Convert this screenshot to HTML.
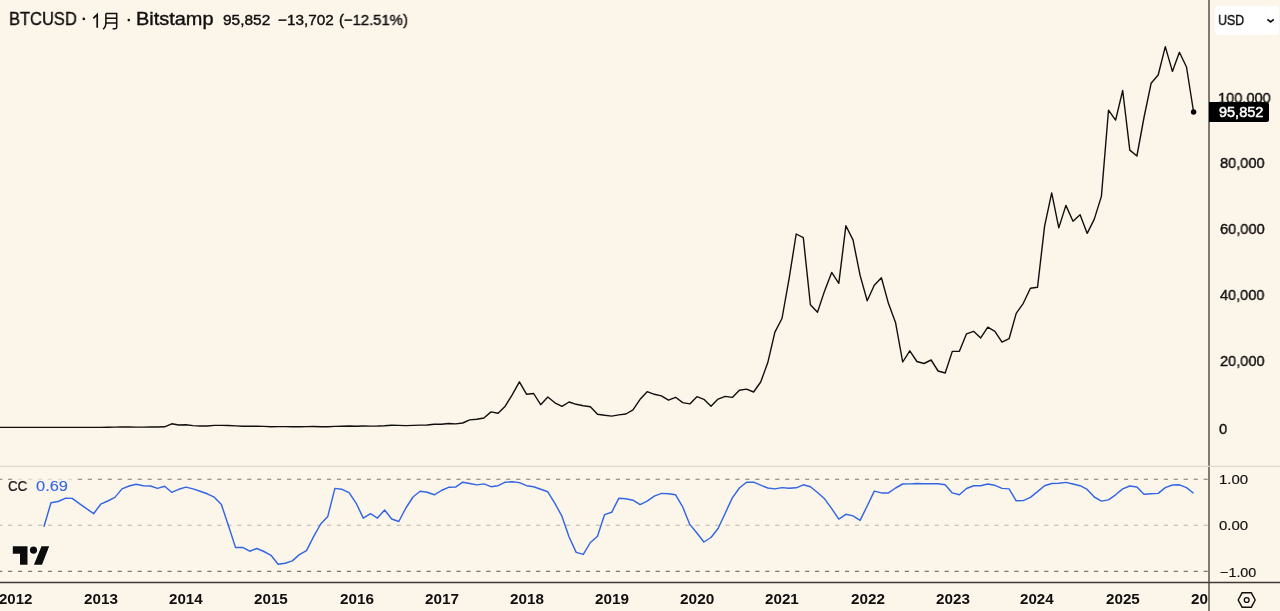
<!DOCTYPE html>
<html><head><meta charset="utf-8"><title>BTCUSD</title>
<style>
html,body{margin:0;padding:0;}
body{width:1280px;height:611px;overflow:hidden;background:#fcf5ea;font-family:"Liberation Sans",sans-serif;color:#100f0e;position:relative;}
#chart{position:absolute;left:0;top:0;}
.t{position:absolute;white-space:nowrap;line-height:1;transform-origin:0 0;will-change:transform;}
#usd{position:absolute;left:1214.8px;top:5.8px;width:64px;height:29px;background:#fff;border-radius:4px;}
#plabel{position:absolute;left:1209.3px;top:102.2px;width:59.6px;height:20.2px;background:#000;border-radius:0 2.5px 2.5px 0;}
#clip26{position:absolute;left:1180px;top:585px;width:28.3px;height:26px;overflow:hidden;}
</style></head><body>
<svg id="chart" width="1280" height="611" viewBox="0 0 1280 611">
<line x1="-1.9" y1="479.3" x2="1208" y2="479.3" stroke="#7e7970" stroke-width="1.1" stroke-dasharray="4.2 5.763"/>
<line x1="-1.9" y1="525.3" x2="1208" y2="525.3" stroke="#b9b3a8" stroke-width="1.1" stroke-dasharray="4.2 5.763"/>
<line x1="-1.9" y1="571.4" x2="1208" y2="571.4" stroke="#7e7970" stroke-width="1.1" stroke-dasharray="4.2 5.763"/>
<rect x="13.5" y="476" width="62" height="21" fill="#fcf5ea" opacity="0.72"/>
<path d="M-5.8,427.4 L1.3,427.4 L8.4,427.4 L15.5,427.4 L22.6,427.4 L29.7,427.4 L36.8,427.4 L43.9,427.4 L51.0,427.4 L58.1,427.4 L65.2,427.4 L72.3,427.4 L79.4,427.4 L86.5,427.4 L93.6,427.4 L100.7,427.4 L107.8,427.3 L114.9,427.1 L122.0,427.0 L129.1,427.0 L136.2,427.1 L143.3,427.1 L150.4,427.0 L157.5,427.0 L164.6,426.8 L171.7,423.8 L178.8,425.0 L185.9,424.8 L193.0,425.6 L200.1,426.0 L207.2,426.0 L214.3,425.4 L221.4,425.4 L228.5,425.5 L235.5,425.9 L242.6,426.2 L249.7,426.3 L256.8,426.2 L263.9,426.4 L271.0,426.7 L278.1,426.6 L285.2,426.6 L292.3,426.7 L299.4,426.7 L306.5,426.6 L313.6,426.5 L320.7,426.7 L327.8,426.7 L334.9,426.4 L342.0,426.2 L349.1,426.0 L356.2,426.2 L363.3,426.0 L370.4,426.1 L377.5,426.0 L384.6,425.7 L391.7,425.2 L398.8,425.4 L405.9,425.6 L413.0,425.4 L420.1,425.1 L427.2,425.0 L434.3,424.3 L441.4,424.3 L448.5,423.5 L455.6,423.9 L462.7,423.0 L469.7,419.9 L476.8,419.3 L483.9,418.0 L491.0,411.9 L498.1,413.2 L505.2,406.2 L512.3,394.7 L519.4,381.8 L526.5,394.2 L533.6,393.5 L540.7,404.7 L547.8,397.0 L554.9,402.8 L562.0,406.4 L569.1,402.0 L576.2,404.3 L583.3,405.7 L590.4,406.7 L597.5,414.3 L604.6,415.3 L611.7,416.1 L618.8,414.9 L625.9,414.0 L633.0,409.9 L640.1,399.3 L647.2,391.7 L654.3,394.3 L661.4,395.9 L668.5,400.2 L675.6,397.3 L682.7,402.6 L689.8,403.9 L696.9,396.7 L703.9,399.3 L711.0,406.3 L718.1,399.1 L725.2,396.4 L732.3,397.4 L739.4,390.2 L746.5,389.1 L753.6,392.0 L760.7,382.0 L767.8,362.6 L774.9,332.1 L782.0,318.5 L789.1,278.7 L796.2,234.0 L803.3,237.6 L810.4,304.7 L817.5,312.2 L824.6,290.9 L831.7,272.4 L838.8,283.3 L845.9,225.7 L853.0,239.9 L860.1,275.4 L867.2,300.8 L874.3,285.3 L881.4,277.7 L888.5,303.6 L895.6,322.8 L902.7,362.0 L909.8,350.8 L916.9,361.5 L924.0,363.5 L931.1,360.0 L938.1,371.0 L945.2,373.0 L952.3,351.4 L959.4,351.3 L966.5,333.8 L973.6,331.3 L980.7,337.9 L987.8,327.2 L994.9,331.3 L1002.0,342.1 L1009.1,338.7 L1016.2,313.4 L1023.3,303.3 L1030.4,288.3 L1037.5,287.3 L1044.6,226.2 L1051.7,192.9 L1058.8,227.9 L1065.9,205.4 L1073.0,221.2 L1080.1,214.8 L1087.2,233.4 L1094.3,219.1 L1101.4,196.4 L1108.5,110.2 L1115.6,120.1 L1122.7,90.5 L1129.8,150.1 L1136.9,156.0 L1144.0,117.5 L1151.1,83.3 L1158.2,75.0 L1165.3,46.6 L1172.4,71.4 L1179.4,52.3 L1186.5,67.0 L1193.6,112.0" fill="none" stroke="#100f0e" stroke-width="1.4" stroke-linejoin="round"/>
<circle cx="1193.6" cy="112.0" r="2.7" fill="#000"/>
<path d="M43.9,526.7 L51.0,502.8 L58.1,501.5 L65.2,498.3 L72.3,498.4 L79.4,503.7 L86.5,508.7 L93.6,513.7 L100.7,504.2 L107.8,501.0 L114.9,497.4 L122.0,488.9 L129.1,486.0 L136.2,484.2 L143.3,485.8 L150.4,486.0 L157.5,488.4 L164.6,486.2 L171.7,492.3 L178.8,489.3 L185.9,487.1 L193.0,488.9 L200.1,491.2 L207.2,493.8 L214.3,497.2 L221.4,504.6 L228.5,525.8 L235.5,547.4 L242.6,547.4 L249.7,551.2 L256.8,548.5 L263.9,551.5 L271.0,555.3 L278.1,564.3 L285.2,563.2 L292.3,560.9 L299.4,554.6 L306.5,550.6 L313.6,536.6 L320.7,524.0 L327.8,516.4 L334.9,488.4 L342.0,489.3 L349.1,492.7 L356.2,503.3 L363.3,518.1 L370.4,513.7 L377.5,518.1 L384.6,510.0 L391.7,519.0 L398.8,521.5 L405.9,508.0 L413.0,497.0 L420.1,491.2 L427.2,492.3 L434.3,494.8 L441.4,490.5 L448.5,487.3 L455.6,487.1 L462.7,482.2 L469.7,483.5 L476.8,484.9 L483.9,483.9 L491.0,486.7 L498.1,485.7 L505.2,482.2 L512.3,481.7 L519.4,482.6 L526.5,485.7 L533.6,486.7 L540.7,489.3 L547.8,491.8 L554.9,503.3 L562.0,516.4 L569.1,537.0 L576.2,552.4 L583.3,554.4 L590.4,542.5 L597.5,536.2 L604.6,514.6 L611.7,512.3 L618.8,498.3 L625.9,498.8 L633.0,500.2 L640.1,504.6 L647.2,501.1 L654.3,496.1 L661.4,493.4 L668.5,493.8 L675.6,494.8 L682.7,506.9 L689.8,524.4 L696.9,533.0 L703.9,542.0 L711.0,537.5 L718.1,528.5 L725.2,513.2 L732.3,497.9 L739.4,488.0 L746.5,482.2 L753.6,482.2 L760.7,485.2 L767.8,488.0 L774.9,488.9 L782.0,487.6 L789.1,488.2 L796.2,487.8 L803.3,484.8 L810.4,486.7 L817.5,492.5 L824.6,498.8 L831.7,508.7 L838.8,519.1 L845.9,514.3 L853.0,515.9 L860.1,520.4 L867.2,506.0 L874.3,491.1 L881.4,492.9 L888.5,492.9 L895.6,488.0 L902.7,484.0 L909.8,483.9 L916.9,483.5 L924.0,483.7 L931.1,483.7 L938.1,483.7 L945.2,484.8 L952.3,492.9 L959.4,494.8 L966.5,488.5 L973.6,485.8 L980.7,485.8 L987.8,484.0 L994.9,485.3 L1002.0,488.4 L1009.1,488.9 L1016.2,500.8 L1023.3,500.6 L1030.4,497.4 L1037.5,491.6 L1044.6,485.7 L1051.7,483.5 L1058.8,483.3 L1065.9,482.4 L1073.0,484.0 L1080.1,485.7 L1087.2,489.4 L1094.3,497.0 L1101.4,501.1 L1108.5,499.9 L1115.6,494.8 L1122.7,488.9 L1129.8,486.0 L1136.9,487.0 L1144.0,494.3 L1151.1,493.7 L1158.2,493.4 L1165.3,487.6 L1172.4,485.0 L1179.4,484.8 L1186.5,487.6 L1193.6,493.3" fill="none" stroke="#3366e2" stroke-width="1.45" stroke-linejoin="round"/>
<line x1="1209" y1="0" x2="1209" y2="611" stroke="#56514b" stroke-width="1.5"/>
<line x1="0" y1="466.4" x2="1280" y2="466.4" stroke="#ded6c9" stroke-width="1.1"/>
<line x1="0" y1="582.5" x2="1280" y2="582.5" stroke="#3d3a35" stroke-width="1.3"/>
<!-- title dots and CJK glyph -->
<circle cx="83.8" cy="18.9" r="1.3" fill="#100f0e"/>
<circle cx="128.8" cy="20.1" r="1.3" fill="#100f0e"/>
<g fill="none" stroke="#100f0e" stroke-width="1.5" stroke-linecap="butt" stroke-linejoin="miter">
<path d="M105.9 13.6 H116.7 V27.3 Q116.7 28.7 115.3 28.7 H112.6"/>
<path d="M105.9 13.6 V22.5 Q105.9 27.2 103 29.2"/>
<path d="M105.9 18.3 H116.7 M105.9 23 H116.7"/>
</g>
<path d="M93.3 18.4 L97.2 14.6 V27.7" fill="none" stroke="#100f0e" stroke-width="1.7" stroke-linejoin="miter"/>
<!-- TV logo -->
<g transform="translate(12.8,546.3)" fill="#0c0c0c" stroke="#fffdf8" stroke-width="1.6" paint-order="stroke" stroke-linejoin="round">
<path d="M0 0 H14.7 V18.4 H7.2 V7.4 H0 Z"/>
<circle cx="20.7" cy="3.75" r="3.6"/>
<path d="M28.7 0 H36.4 L29.2 18.4 H21.1 Z"/>
</g>
<!-- hexagon settings icon -->
<g transform="translate(1246.7,600)" fill="none" stroke="#100f0e" stroke-width="1.4">
<path d="M-8.5 0 L-4.6 -7.2 H4.6 L8.5 0 L4.6 7.2 H-4.6 Z"/>
<circle cx="0" cy="0" r="2.4"/>
</g>
</svg>
<div id="usd"></div>
<div id="plabel"></div>
<svg style="position:absolute;left:1260px;top:12px" width="20" height="16" viewBox="0 0 20 16"><path d="M7.4 7.3 L10.6 9.9 L13.8 7.3" fill="none" stroke="#100f0e" stroke-width="1.7"/></svg>
<div class="t" style="left:8.96px;top:9.99px;font-size:18.87px;transform:scaleX(0.8743);color:#100f0e;font-weight:normal;-webkit-text-stroke:0.4px;">BTCUSD</div>
<div class="t" style="left:135.65px;top:9.99px;font-size:18.87px;transform:scaleX(1.0566);color:#100f0e;font-weight:normal;-webkit-text-stroke:0.4px;">Bitstamp</div>
<div class="t" style="left:223.00px;top:11.84px;font-size:15.00px;transform:scaleX(1.0294);color:#100f0e;font-weight:normal;-webkit-text-stroke:0.4px;">95,852</div>
<div class="t" style="left:277.64px;top:11.84px;font-size:15.00px;transform:scaleX(1.0183);color:#100f0e;font-weight:normal;-webkit-text-stroke:0.4px;">−13,702</div>
<div class="t" style="left:339.00px;top:11.84px;font-size:15.00px;transform:scaleX(0.9889);color:#100f0e;font-weight:normal;-webkit-text-stroke:0.4px;">(−12.51%)</div>
<div class="t" style="left:1218.06px;top:12.76px;font-size:14.47px;transform:scaleX(0.8569);color:#100f0e;font-weight:normal;-webkit-text-stroke:0.4px;">USD</div>
<div class="t" style="left:1218.17px;top:91.18px;font-size:14.97px;transform:scaleX(0.9735);color:#100f0e;font-weight:normal;-webkit-text-stroke:0.4px;">100,000</div>
<div class="t" style="left:1219.76px;top:156.38px;font-size:14.97px;transform:scaleX(0.9722);color:#100f0e;font-weight:normal;-webkit-text-stroke:0.4px;">80,000</div>
<div class="t" style="left:1219.52px;top:222.18px;font-size:14.97px;transform:scaleX(0.9751);color:#100f0e;font-weight:normal;-webkit-text-stroke:0.4px;">60,000</div>
<div class="t" style="left:1219.64px;top:288.38px;font-size:14.97px;transform:scaleX(0.9685);color:#100f0e;font-weight:normal;-webkit-text-stroke:0.4px;">40,000</div>
<div class="t" style="left:1219.76px;top:353.58px;font-size:14.97px;transform:scaleX(0.9722);color:#100f0e;font-weight:normal;-webkit-text-stroke:0.4px;">20,000</div>
<div class="t" style="left:1218.96px;top:421.58px;font-size:14.97px;transform:scaleX(0.9789);color:#100f0e;font-weight:normal;-webkit-text-stroke:0.4px;">0</div>
<div class="t" style="left:1219.11px;top:472.91px;font-size:13.19px;transform:scaleX(1.1334);color:#100f0e;font-weight:normal;-webkit-text-stroke:0.15px;">1.00</div>
<div class="t" style="left:1218.98px;top:519.31px;font-size:13.19px;transform:scaleX(1.1371);color:#100f0e;font-weight:normal;-webkit-text-stroke:0.15px;">0.00</div>
<div class="t" style="left:1219.71px;top:565.71px;font-size:13.19px;transform:scaleX(1.0891);color:#100f0e;font-weight:normal;-webkit-text-stroke:0.15px;">−1.00</div>
<div class="t" style="left:8.49px;top:479.24px;font-size:14.61px;transform:scaleX(0.9138);color:#100f0e;font-weight:normal;-webkit-text-stroke:0.2px;">CC</div>
<div class="t" style="left:36.14px;top:478.33px;font-size:15.36px;transform:scaleX(1.0692);color:#3366e2;font-weight:normal;-webkit-text-stroke:0.12px;">0.69</div>
<div class="t" style="left:-0.59px;top:593.32px;font-size:13.79px;transform:scaleX(1.0913);color:#100f0e;font-weight:bold;">2012</div>
<div class="t" style="left:84.40px;top:593.32px;font-size:13.79px;transform:scaleX(1.1064);color:#100f0e;font-weight:bold;">2013</div>
<div class="t" style="left:169.25px;top:593.32px;font-size:13.79px;transform:scaleX(1.0967);color:#100f0e;font-weight:bold;">2014</div>
<div class="t" style="left:254.06px;top:593.32px;font-size:13.79px;transform:scaleX(1.1024);color:#100f0e;font-weight:bold;">2015</div>
<div class="t" style="left:339.87px;top:593.32px;font-size:13.79px;transform:scaleX(1.1065);color:#100f0e;font-weight:bold;">2016</div>
<div class="t" style="left:424.68px;top:593.32px;font-size:13.79px;transform:scaleX(1.1069);color:#100f0e;font-weight:bold;">2017</div>
<div class="t" style="left:509.52px;top:593.32px;font-size:13.79px;transform:scaleX(1.1058);color:#100f0e;font-weight:bold;">2018</div>
<div class="t" style="left:595.33px;top:593.32px;font-size:13.79px;transform:scaleX(1.1057);color:#100f0e;font-weight:bold;">2019</div>
<div class="t" style="left:680.14px;top:593.32px;font-size:13.79px;transform:scaleX(1.1193);color:#100f0e;font-weight:bold;">2020</div>
<div class="t" style="left:764.98px;top:593.32px;font-size:13.79px;transform:scaleX(1.1030);color:#100f0e;font-weight:bold;">2021</div>
<div class="t" style="left:850.79px;top:593.32px;font-size:13.79px;transform:scaleX(1.1060);color:#100f0e;font-weight:bold;">2022</div>
<div class="t" style="left:935.60px;top:593.32px;font-size:13.79px;transform:scaleX(1.1064);color:#100f0e;font-weight:bold;">2023</div>
<div class="t" style="left:1020.45px;top:593.32px;font-size:13.79px;transform:scaleX(1.0967);color:#100f0e;font-weight:bold;">2024</div>
<div class="t" style="left:1106.26px;top:593.32px;font-size:13.79px;transform:scaleX(1.1024);color:#100f0e;font-weight:bold;">2025</div>
<div class="t" style="left:1219.38px;top:104.70px;font-size:14.26px;transform:scaleX(1.0162);color:#fff;font-weight:normal;-webkit-text-stroke:0.5px;">95,852</div>
<div id="clip26"><div class="t" style="left:11.07px;top:8.32px;font-size:13.79px;transform:scaleX(1.1065);color:#100f0e;font-weight:bold;">2026</div></div>
</body></html>
